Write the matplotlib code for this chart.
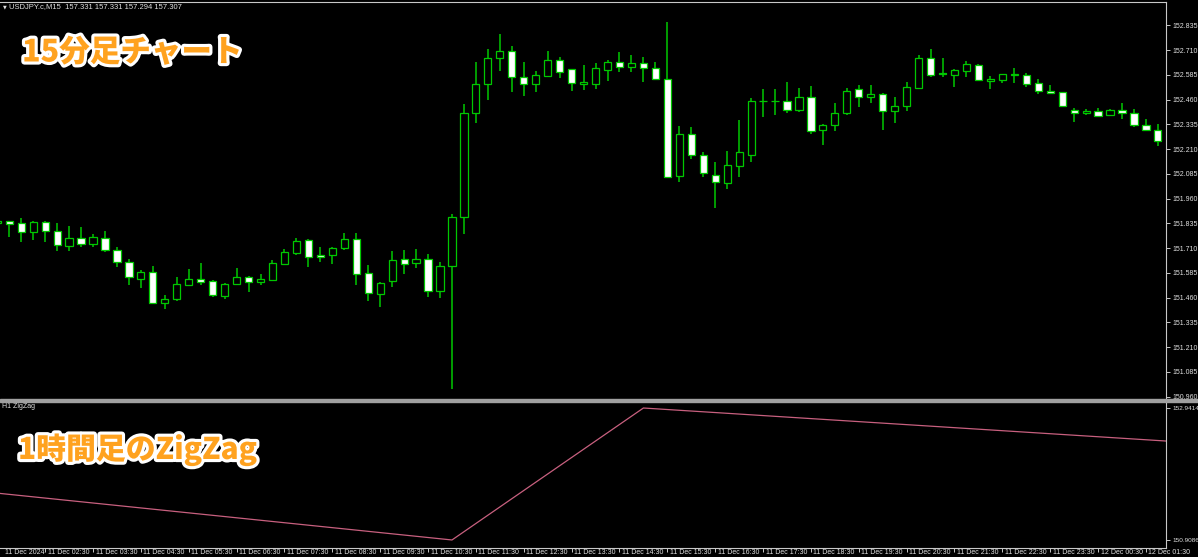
import numpy as np
import matplotlib.pyplot as plt
import matplotlib.transforms as mtransforms
from matplotlib import patheffects

# USDJPY M15 candles, 11 Dec 01:30 -> 12 Dec 01:45
opens = [151.835, 151.845, 151.835, 151.790, 151.842, 151.795, 151.720, 151.759, 151.729, 151.762,
         151.700, 151.640, 151.552, 151.591, 151.432, 151.451, 151.523, 151.552, 151.542, 151.469,
         151.527, 151.564, 151.537, 151.550, 151.629, 151.687, 151.749, 151.676, 151.675, 151.709,
         151.754, 151.585, 151.478, 151.544, 151.656, 151.633, 151.653, 151.495, 151.618, 151.865,
         152.391, 152.540, 152.671, 152.704, 152.575, 152.539, 152.580, 152.658, 152.613, 152.540,
         152.539, 152.611, 152.648, 152.624, 152.643, 152.621, 152.564, 152.072, 152.285, 152.181,
         152.080, 152.037, 152.124, 152.181, 152.453, 152.455, 152.451, 152.406, 152.471, 152.306,
         152.333, 152.394, 152.512, 152.471, 152.488, 152.401, 152.429, 152.520, 152.668, 152.592,
         152.586, 152.606, 152.636, 152.556, 152.559, 152.586, 152.582, 152.545, 152.503, 152.497,
         152.406, 152.391, 152.401, 152.380, 152.406, 152.391, 152.330, 152.308]
highs = [151.850, 151.848, 151.862, 151.845, 151.848, 151.838, 151.821, 151.815, 151.781, 151.795,
         151.717, 151.653, 151.599, 151.619, 151.474, 151.565, 151.604, 151.633, 151.549, 151.532,
         151.611, 151.569, 151.579, 151.650, 151.704, 151.762, 151.756, 151.717, 151.717, 151.785,
         151.785, 151.624, 151.538, 151.697, 151.700, 151.707, 151.680, 151.641, 151.882, 152.438,
         152.650, 152.717, 152.790, 152.730, 152.650, 152.604, 152.705, 152.675, 152.616, 152.634,
         152.646, 152.660, 152.699, 152.687, 152.673, 152.650, 152.852, 152.326, 152.323, 152.195,
         152.143, 152.200, 152.357, 152.466, 152.512, 152.512, 152.550, 152.517, 152.528, 152.336,
         152.441, 152.517, 152.534, 152.534, 152.492, 152.471, 152.550, 152.687, 152.714, 152.668,
         152.613, 152.653, 152.640, 152.579, 152.591, 152.619, 152.593, 152.565, 152.535, 152.498,
         152.417, 152.411, 152.417, 152.411, 152.441, 152.411, 152.363, 152.336]
lows = [151.830, 151.767, 151.741, 151.751, 151.741, 151.697, 151.697, 151.717, 151.717, 151.689,
        151.616, 151.522, 151.507, 151.428, 151.404, 151.444, 151.518, 151.522, 151.464, 151.454,
        151.522, 151.488, 151.522, 151.547, 151.624, 151.675, 151.613, 151.640, 151.628, 151.700,
        151.525, 151.443, 151.414, 151.515, 151.579, 151.609, 151.464, 151.456, 150.997, 151.779,
        152.340, 152.458, 152.606, 152.500, 152.478, 152.498, 152.572, 152.567, 152.505, 152.508,
        152.515, 152.554, 152.601, 152.601, 152.550, 152.559, 152.062, 152.044, 152.158, 152.067,
        151.912, 152.007, 152.070, 152.146, 152.373, 152.380, 152.391, 152.399, 152.286, 152.230,
        152.303, 152.382, 152.424, 152.441, 152.306, 152.343, 152.404, 152.515, 152.575, 152.575,
        152.522, 152.575, 152.552, 152.512, 152.542, 152.545, 152.525, 152.488, 152.492, 152.424,
        152.347, 152.384, 152.370, 152.377, 152.360, 152.320, 152.303, 152.225]
closes = [151.845, 151.830, 151.790, 151.842, 151.798, 151.724, 151.759, 151.729, 151.767, 151.699,
          151.638, 151.562, 151.588, 151.431, 151.454, 151.527, 151.552, 151.538, 151.471, 151.530,
          151.564, 151.537, 151.552, 151.633, 151.689, 151.744, 151.663, 151.663, 151.709, 151.754,
          151.580, 151.481, 151.532, 151.650, 151.628, 151.653, 151.493, 151.619, 151.865, 152.391,
          152.537, 152.670, 152.704, 152.572, 152.539, 152.582, 152.658, 152.598, 152.542, 152.547,
          152.618, 152.648, 152.623, 152.643, 152.618, 152.565, 152.067, 152.288, 152.181, 152.088,
          152.045, 152.129, 152.194, 152.451, 152.455, 152.454, 152.406, 152.471, 152.300, 152.333,
          152.394, 152.505, 152.471, 152.488, 152.401, 152.427, 152.525, 152.668, 152.586, 152.587,
          152.609, 152.640, 152.559, 152.562, 152.588, 152.589, 152.540, 152.502, 152.495, 152.427,
          152.391, 152.402, 152.378, 152.406, 152.391, 152.330, 152.306, 152.249]

# H1 ZigZag vertices (bar index on the M15 chart, price)
zz_index = [0, 38, 54, 98]
zz_value = [151.63, 150.9086, 152.9414, 152.429]

price_ticks = [150.960, 151.085, 151.210, 151.335, 151.460, 151.585, 151.710, 151.835,
               151.960, 152.085, 152.210, 152.335, 152.460, 152.585, 152.710, 152.835]
zz_ticks = [150.9086, 152.9414]
time_pos = [0.4] + list(range(4, 97, 4))
time_labels = ['11 Dec 2024'] + ['11 Dec %02d:30' % h for h in range(2, 24)] + ['12 Dec 00:30', '12 Dec 01:30']

green = '#00c800'
light = '#e0e0e0'
W, H = 1198, 557

fig = plt.figure(figsize=(W / 100, H / 100), dpi=100, facecolor='black')
ax = fig.add_axes([0, 1 - 398 / H, 1166 / W, 396 / H])
ax2 = fig.add_axes([0, 1 - 548 / H, 1166 / W, 146 / H])

for a in (ax, ax2):
    a.set_facecolor('black')
    a.spines['left'].set_visible(False)
    for s in ('top', 'right', 'bottom'):
        a.spines[s].set_color('#c8c8c8')
        a.spines[s].set_linewidth(0.8)
    a.yaxis.tick_right()
    a.tick_params(axis='y', colors='#c8c8c8', labelcolor=light, labelsize=5, length=3, width=0.7, pad=2)
    a.set_xlim(0.2257, 97.677)

ax.spines['bottom'].set_visible(False)
ax2.spines['top'].set_visible(False)

# candles
x = np.arange(len(opens))
o = np.array(opens)
c = np.array(closes)
ax.vlines(x, lows, highs, color=green, linewidth=1.1, zorder=1)
body = c - o
body = np.where(np.abs(body) < 0.0015, np.sign(body + 1e-9) * 0.0015, body)
fills = ['black' if cl >= op else 'white' for op, cl in zip(opens, closes)]
ax.bar(x, body, bottom=o, width=0.6, color=fills, edgecolor=green, linewidth=0.9, zorder=2)
ax.set_ylim(150.953, 152.953)
ax.set_yticks(price_ticks)
ax.set_yticklabels(['%.3f' % p for p in price_ticks], family='Liberation Sans')
ax.set_xticks([])

# zigzag panel
ax2.plot(zz_index, zz_value, color='#c8607f', linewidth=0.9)
ax2.set_ylim(150.785, 153.034)
ax2.set_yticks(zz_ticks)
ax2.set_yticklabels(['%.4f' % p for p in zz_ticks], family='Liberation Sans', fontsize=4.6)
ax2.tick_params(axis='y', pad=1.5)
ax2.set_xticks(time_pos)
ax2.set_xticklabels(time_labels, family='Liberation Sans', ha='left')
ax2.tick_params(axis='x', colors='#c8c8c8', labelcolor=light, labelsize=5, length=3, width=0.7, pad=-2.5)
ax2.xaxis.get_major_ticks()[0].tick1line.set_visible(False)
shift = mtransforms.ScaledTranslation(2.5 / 100, 0, fig.dpi_scale_trans)
for lbl in ax2.get_xticklabels():
    lbl.set_transform(lbl.get_transform() + shift)

# panel separator
fig.add_artist(plt.Rectangle((0, 1 - 402 / H), 1, 3 / H, transform=fig.transFigure,
                             color='#a0a0a0', zorder=5))

fig.text(3 / W, 1 - 7 / H, '\u25bc', color=light, fontsize=3.5, va='center')
fig.text(9 / W, 1 - 7 / H, 'USDJPY.c,M15  157.331 157.331 157.294 157.307', color=light,
         fontsize=5.5, family='Liberation Sans', va='center')
fig.text(2 / W, 1 - 407 / H, 'H1 ZigZag', color=light, fontsize=5, family='Liberation Sans', va='center')

outline = [patheffects.withStroke(linewidth=4.5, foreground='white')]
fig.text(22 / W, 1 - 52 / H, '15分足チャート', color='#ffa21f', fontsize=22, fontweight='heavy',
         family=['Noto Sans CJK JP', 'DejaVu Sans'], va='center', path_effects=outline)
fig.text(18 / W, 1 - 449 / H, '1時間足のZigZag', color='#ffa21f', fontsize=21.5, fontweight='heavy',
         family=['Noto Sans CJK JP', 'DejaVu Sans'], va='center', path_effects=outline)

fig.savefig('out.png', dpi=100, facecolor='black')
